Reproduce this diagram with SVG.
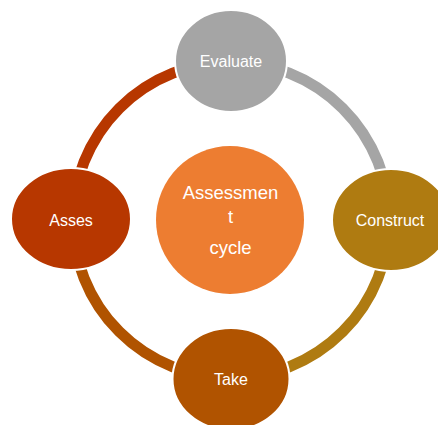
<svg xmlns="http://www.w3.org/2000/svg" width="438" height="425" viewBox="0 0 438 425">
<style>
.arc{fill:none;stroke-width:11}
.node{stroke:#ffffff;stroke-width:2}
.lbl{font-family:"Liberation Sans",Arial,sans-serif;font-size:16px;fill:#ffffff;text-anchor:middle}
.ctr{font-family:"Liberation Sans",Arial,sans-serif;font-size:18.5px;fill:#ffffff;text-anchor:middle}
</style>
<rect width="438" height="425" fill="#ffffff"/>
<g id="connectors">
<path class="arc" stroke="#A5A5A5" d="M231,62 A158,158 0 0 1 389,220"/>
<path class="arc" stroke="#AF7B11" d="M389,220 A158,158 0 0 1 231,378"/>
<path class="arc" stroke="#B05300" d="M231,378 A158,158 0 0 1 73,220"/>
<path class="arc" stroke="#B73700" d="M73,220 A158,158 0 0 1 231,62"/>
</g>
<g id="center">
<circle cx="230" cy="220" r="74" fill="#ED7D31"/>
<text class="ctr" x="230.5" y="198.5">Assessmen</text>
<text class="ctr" x="230.5" y="222.5">t</text>
<text class="ctr" x="230.5" y="253.5">cycle</text>
</g>
<g id="evaluate">
<ellipse class="node" cx="231" cy="61" rx="56" ry="51" fill="#A5A5A5"/>
<text class="lbl" x="231" y="67">Evaluate</text>
</g>
<g id="construct">
<ellipse class="node" cx="391" cy="220" rx="59" ry="51" fill="#AF7B11"/>
<text class="lbl" x="390" y="226">Construct</text>
</g>
<g id="take">
<ellipse class="node" cx="231" cy="379" rx="58.5" ry="51" fill="#B05300"/>
<text class="lbl" x="231" y="385">Take</text>
</g>
<g id="asses">
<ellipse class="node" cx="71" cy="219" rx="60" ry="51" fill="#B73700"/>
<text class="lbl" x="71" y="226">Asses</text>
</g>
</svg>
